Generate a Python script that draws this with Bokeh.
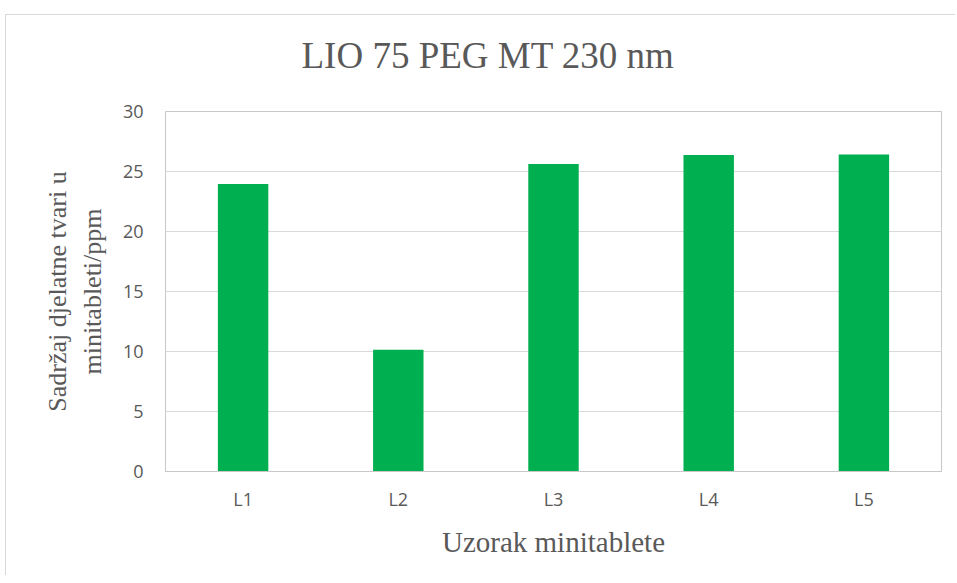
from bokeh.plotting import figure
from bokeh.models import FactorRange, Range1d, FixedTicker, ColumnDataSource, Title
from bokeh.embed import file_html
from bokeh.resources import INLINE

categories = ["L1", "L2", "L3", "L4", "L5"]
values = [23.95, 10.15, 25.63, 26.38, 26.42]
y_ticks = [0, 5, 10, 15, 20, 25, 30]

title_text = "LIO 75 PEG MT 230 nm"
x_title = "Uzorak minitablete"
y_title = "Sadržaj djelatne tvari u\nminitableti/ppm"

source = ColumnDataSource(data=dict(cat=categories, val=values))

p = figure(
    x_range=FactorRange(*categories),
    y_range=Range1d(0, 30),
    width=950, height=575,
    output_backend="svg", toolbar_location=None,
    min_border_left=160, min_border_right=14,
    min_border_top=111, min_border_bottom=104,
    margin=(0, 0, 0, 5),
)
p.border_fill_color = None
p.background_fill_color = "white"
p.styles = {
    "background": "linear-gradient(#d9d9d9, #d9d9d9) no-repeat 0 14px / 100% 1px, "
                  "linear-gradient(#d9d9d9, #d9d9d9) no-repeat 0 14px / 1px 100%, white",
}

p.vbar(x="cat", top="val", width=0.325, source=source,
       fill_color="#00b050", line_color="#00b050", line_width=0)

p.title = Title(text=title_text, align="left", offset=136, standoff=67,
                vertical_align="top",
                text_font="Liberation Serif", text_font_size="37px",
                text_font_style="normal", text_color="#595959")

p.outline_line_color = "#c8c8c8"
p.outline_line_width = 1

p.yaxis.ticker = FixedTicker(ticks=y_ticks)
p.xgrid.grid_line_color = None
p.ygrid.grid_line_color = "#d9d9d9"
p.ygrid.grid_line_width = 1

for ax in (p.xaxis[0], p.yaxis[0]):
    ax.axis_line_color = "#c8c8c8"
    ax.major_tick_line_color = None
    ax.minor_tick_line_color = None
    ax.major_tick_out = 0
    ax.major_tick_in = 0
    ax.major_label_text_font = "Open Sans"
    ax.major_label_text_font_size = "18px"
    ax.major_label_text_color = "#595959"
    ax.axis_label_text_font = "Liberation Serif"
    ax.axis_label_text_font_style = "normal"
    ax.axis_label_text_color = "#595959"

p.xaxis.axis_label_text_font_size = "29px"
p.yaxis.axis_label_text_font_size = "26px"
p.xaxis.axis_label = x_title
p.yaxis.axis_label = y_title
p.xaxis.major_label_standoff = 15
p.yaxis.major_label_standoff = 22
p.xaxis.axis_label_standoff = 12
p.yaxis.axis_label_standoff = 13

open("out.html", "w").write(file_html(p, INLINE))
